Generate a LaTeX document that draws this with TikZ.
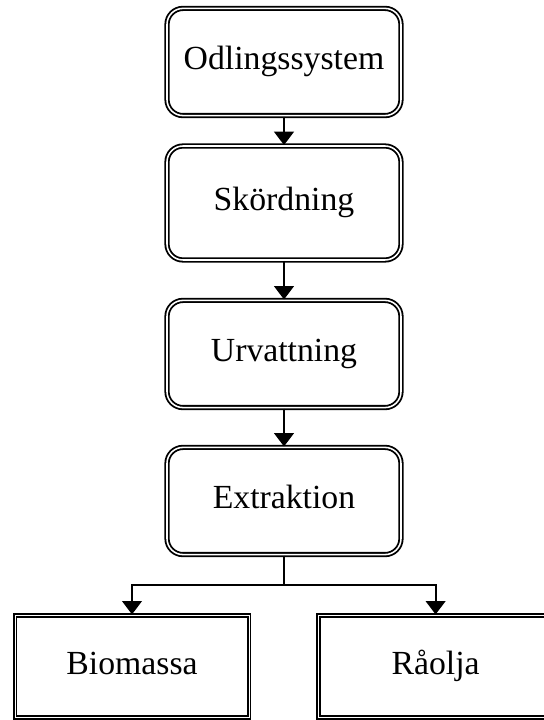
\documentclass[tikz,border=0pt]{standalone}
\usepackage{fontspec}
\setmainfont{Liberation Serif}
\usetikzlibrary{arrows.meta}

\begin{document}
\begin{tikzpicture}[
    font=\fontsize{24}{28}\selectfont,
    etape/.style={draw, double, line width=1.3pt, double distance=1.1pt,
                  rounded corners=0.4cm, minimum width=5.85cm,
                  minimum height=2.68cm, inner sep=0pt,
                  text height=16pt, text depth=5pt},
    produit/.style={draw, double, line width=1.4pt, double distance=0.7pt,
                    minimum width=5.85cm, minimum height=2.55cm, inner sep=0pt,
                    text height=16pt, text depth=5pt},
    lien/.style={line width=1.4pt},
    fleche/.style={lien, -{Triangle[width=14pt,length=9.5pt]}}
  ]
  \useasboundingbox (0,0) rectangle (13.6,18);
  \clip (0,0) rectangle (13.6,18);
  % Etapes du procédé
  \node[etape] (odl) at (7.1,16.45)  {Odlingssystem};
  \node[etape, minimum height=2.85cm] (skord) at (7.1,12.925) {Skördning};
  \node[etape] (urv) at (7.1,9.15)   {Urvattning};
  \node[etape] (ext) at (7.1,5.475)  {Extraktion};
  % Produits
  \node[produit] (bio) at (3.3,1.34)   {Biomassa};
  \node[produit] (rao) at (10.89,1.34) {Råolja};
  % Flèches
  \draw[fleche] (odl) -- (skord);
  \draw[fleche] (skord) -- (urv);
  \draw[fleche] (urv) -- (ext);
  \coordinate (split) at (7.1,3.375);
  \draw[lien] (ext) -- (split);
  \draw[fleche] (split) -| (bio);
  \draw[fleche] (split) -| (rao);
\end{tikzpicture}
\end{document}
